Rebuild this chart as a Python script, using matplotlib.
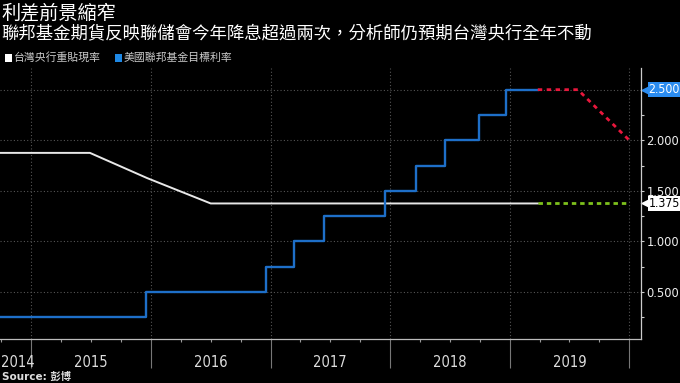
import matplotlib
matplotlib.use("Agg")
from matplotlib import pyplot as plt
from matplotlib import transforms
from matplotlib.patches import Rectangle
from matplotlib.ticker import FixedLocator, FuncFormatter
from matplotlib import font_manager as fm

plt.rcParams['font.family'] = ['DejaVu Sans', 'Noto Sans CJK TC']
cjk = ['Noto Sans CJK TC', 'DejaVu Sans']
cond = [f for f in fm.fontManager.ttflist if f.name == 'DejaVu Sans' and 'ondensed' in f.fname and 'Bold' not in f.fname and 'Oblique' not in f.fname]
if cond:
    narrow_file = cond[0].fname
else:
    narrow_file = None

def narrow(size):
    if narrow_file:
        return fm.FontProperties(fname=narrow_file, size=size)
    return fm.FontProperties(family='DejaVu Sans', size=size)

# data (decimal years)
tw_x = [2014.738, 2015.49, 2015.97, 2016.50, 2019.235]
tw_y = [1.875, 1.875, 1.625, 1.375, 1.375]
fed_x = [2014.738, 2015.96, 2016.96, 2017.20, 2017.45, 2017.96, 2018.22, 2018.46, 2018.74, 2018.97, 2019.235]
fed_y = [0.25, 0.50, 0.75, 1.00, 1.25, 1.50, 1.75, 2.00, 2.25, 2.50, 2.50]
fut_x = [2019.235, 2019.57, 2020.0]
fut_y = [2.5, 2.5, 2.0]
twf_x = [2019.235, 2020.0]
twf_y = [1.375, 1.375]
years = [2014, 2015, 2016, 2017, 2018, 2019]
yticks = [0.5, 1.0, 1.5, 2.0, 2.5]

fig = plt.figure(figsize=(6.8, 3.83), dpi=100, facecolor='black')
ax = fig.add_axes([0, 0.1141, 641/680, 0.8232 - 0.1141])
ax.set_facecolor('black')

ax.plot(tw_x, tw_y, color='#e8e8e8', lw=1.4)
ax.plot(fed_x, fed_y, color='#1e6fc8', lw=1.7, drawstyle='steps-post')
ax.plot(fut_x, fut_y, color='#e8173c', lw=2, dashes=(1.6, 1.6))
ax.plot(twf_x, twf_y, color='#7dc11c', lw=2, dashes=(1.6, 1.4))

xmin, xmax = 2014.738, 2020.098
ax.set_xlim(xmin, xmax)
ax.set_ylim(0.032, 2.717)

for s in ['left', 'top']:
    ax.spines[s].set_visible(False)
ax.spines['bottom'].set_color('#bbbbbb')
ax.spines['right'].set_color('#cccccc')
ax.spines['bottom'].set_linewidth(0.9)
ax.spines['right'].set_linewidth(0.9)

# x axis: year separators + quarter ticks
ax.xaxis.set_major_locator(FixedLocator([2015, 2016, 2017, 2018, 2019, 2020]))
ax.xaxis.set_minor_locator(FixedLocator([y + q for y in range(2014, 2020) for q in (0.25, 0.5, 0.75)]))
ax.tick_params(axis='x', which='major', length=21, width=0.8, color='#777777', labelbottom=False)
ax.tick_params(axis='x', which='minor', length=2.2, width=0.8, color='#999999')
trans = transforms.blended_transform_factory(ax.transData, ax.transAxes)
for y in years:
    lo = max(y, xmin)
    hi = min(y + 1, 2020)
    xc = (lo + hi) / 2
    if y == 2014:
        ax.text(0.002, -0.085, str(y), transform=ax.transAxes, ha='left', va='center',
                color='#dddddd', fontproperties=narrow(10.5))
    else:
        ax.text(xc, -0.085, str(y), transform=trans, ha='center', va='center',
                color='#dddddd', fontproperties=narrow(10.5))

# y axis on the right
ax.yaxis.tick_right()
ax.yaxis.set_major_locator(FixedLocator(yticks))
ax.yaxis.set_minor_locator(FixedLocator([0.25, 0.75, 1.25, 1.75, 2.25]))
ax.yaxis.set_major_formatter(FuncFormatter(lambda v, p: '' if v == 2.5 else '%.3f' % v))
ax.tick_params(axis='y', which='both', length=2.5, width=0.8, color='#cccccc',
               labelcolor='#eeeeee', labelsize=8.3, pad=1.5)
for lab in ax.get_yticklabels():
    lab.set_verticalalignment('center_baseline')

ax.grid(True, which='major', color='#555555', lw=0.8, linestyle=(0, (1, 2)))

# value boxes
ytrans = transforms.blended_transform_factory(ax.transAxes, ax.transData)
ax.text(1.012, 2.5, '2.500', transform=ytrans, ha='left', va='center', color='white',
        fontproperties=narrow(8.8), bbox=dict(boxstyle='square,pad=0.08', fc='#2b8cf0', ec='none'))
ax.plot([1.008], [2.5], marker='<', ms=8, color='#2b8cf0', mec='none', transform=ytrans, clip_on=False)
ax.text(1.012, 1.375, '1.375', transform=ytrans, ha='left', va='center', color='black',
        fontproperties=narrow(8.8), bbox=dict(boxstyle='square,pad=0.08', fc='white', ec='none'))
ax.plot([1.008], [1.375], marker='<', ms=8, color='white', mec='none', transform=ytrans, clip_on=False)

# titles
fig.text(0.002, 0.965, '利差前景縮窄', color='white', fontsize=13.8, family=cjk, va='center')
fig.text(0.002, 0.913, '聯邦基金期貨反映聯儲會今年降息超過兩次，分析師仍預期台灣央行全年不動',
         color='white', fontsize=12.5, family=cjk, va='center')

# legend
fig.patches.append(Rectangle((5/680, 1 - 62/383), 7/680, 8/383, transform=fig.transFigure, fc='white', ec='none'))
fig.text(13.5/680, 1 - 57.7/383, '台灣央行重貼現率', color='#cccccc', fontsize=7.8, family=cjk, va='center')
fig.patches.append(Rectangle((115/680, 1 - 62/383), 7/680, 8/383, transform=fig.transFigure, fc='#1e88e5', ec='none'))
fig.text(124/680, 1 - 57.7/383, '美國聯邦基金目標利率', color='#cccccc', fontsize=7.8, family=cjk, va='center')

fig.text(0.003, 1 - 377/383, 'Source: 彭博', color='#dddddd', fontsize=7.5, weight='bold', va='center',
         family=['DejaVu Sans', 'Noto Sans CJK TC'])

fig.savefig('out.png', dpi=100, facecolor='black')
